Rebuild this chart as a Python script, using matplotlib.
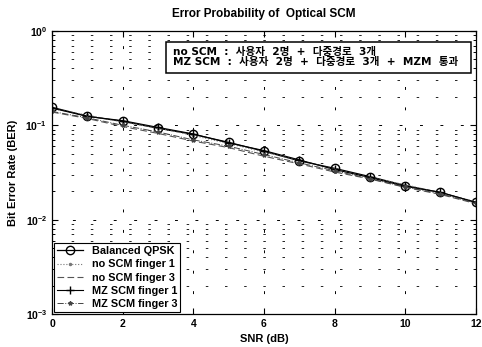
import matplotlib
matplotlib.use("Agg")
import matplotlib.pyplot as plt
from matplotlib.patches import Rectangle
from matplotlib.ticker import LogLocator, NullFormatter

snr = [0, 1, 2, 3, 4, 5, 6, 7, 8, 9, 10, 11, 12]
balanced_qpsk = [0.155, 0.125, 0.110, 0.093, 0.080, 0.066, 0.053, 0.042, 0.035, 0.0286, 0.023, 0.0194, 0.0152]
no_scm_f1 = [0.150, 0.128, 0.108, 0.094, 0.078, 0.064, 0.052, 0.043, 0.034, 0.028, 0.0235, 0.0192, 0.0155]
no_scm_f3 = [0.138, 0.118, 0.097, 0.082, 0.068, 0.058, 0.047, 0.039, 0.032, 0.027, 0.022, 0.0185, 0.0148]
mz_scm_f1 = [0.152, 0.124, 0.112, 0.095, 0.081, 0.065, 0.054, 0.043, 0.034, 0.028, 0.0225, 0.0195, 0.0153]
mz_scm_f3 = [0.140, 0.120, 0.100, 0.085, 0.070, 0.060, 0.049, 0.040, 0.033, 0.0272, 0.0222, 0.0188, 0.0150]

xticks = [0, 2, 4, 6, 8, 10, 12]
title = "Error Probability of  Optical SCM"
xlabel = "SNR (dB)"
ylabel = "Bit Error Rate (BER)"
legend_labels = ["Balanced QPSK", "no SCM finger 1", "no SCM finger 3", "MZ SCM finger 1", "MZ SCM finger 3"]
note_lines = ["no SCM  :  사용자  2명  +  다중경로  3개",
              "MZ SCM  :  사용자  2명  +  다중경로  3개  +  MZM  통과"]

plt.rcParams['font.family'] = ['Liberation Sans', 'DejaVu Sans']
plt.rcParams['font.weight'] = 'bold'
plt.rcParams['mathtext.default'] = 'bf'

fig = plt.figure(figsize=(4.82, 3.47), dpi=100)
ax = fig.add_axes([0.108, 0.095, 0.879, 0.816])

ax.semilogy(snr, balanced_qpsk, '-o', color='black', lw=0.9, ms=6, mfc='none', mew=1.0, label=legend_labels[0])
ax.semilogy(snr, no_scm_f1, ':', color='#777777', lw=0.8, marker='.', ms=3, label=legend_labels[1])
ax.semilogy(snr, no_scm_f3, '--', color='#555555', lw=0.8, dashes=(6, 3), label=legend_labels[2])
ax.semilogy(snr, mz_scm_f1, '-+', color='black', lw=0.8, ms=6, label=legend_labels[3])
ax.semilogy(snr, mz_scm_f3, '-.', color='#444444', lw=0.7, marker='*', ms=3, label=legend_labels[4])

ax.set_xlim(0, 12)
ax.set_ylim(1e-3, 1)
ax.set_xticks(xticks)
ax.yaxis.set_major_locator(LogLocator(base=10, numticks=10))
ax.yaxis.set_minor_locator(LogLocator(base=10, subs=range(2, 10), numticks=10))
ax.yaxis.set_minor_formatter(NullFormatter())
ax.tick_params(which='both', direction='in', labelsize=7.5, top=True, right=True)
ax.tick_params(which='major', length=4)
ax.tick_params(which='minor', length=2)
ax.grid(True, which='major', linestyle=(0, (3, 18)), color='black', lw=0.7)
ax.grid(True, which='minor', axis='y', linestyle=(0, (3, 20)), color='black', lw=0.6)

ax.set_title(title, fontsize=8.5, fontweight='bold', pad=10)
ax.set_xlabel(xlabel, fontsize=8, fontweight='bold', labelpad=4)
ax.set_ylabel(ylabel, fontsize=8, fontweight='bold', labelpad=5)

for sp in ax.spines.values():
    sp.set_linewidth(0.9)

leg = ax.legend(loc='lower left', fontsize=7.8, frameon=True, fancybox=False, edgecolor='black',
                framealpha=1, handlelength=2.4, borderpad=0.3, labelspacing=0.3, borderaxespad=0.15)
leg.get_frame().set_linewidth(0.8)

ax.add_patch(Rectangle((0.268, 0.85), 0.722, 0.11, transform=ax.transAxes, facecolor='white',
                       edgecolor='black', lw=1.1, zorder=5))
for i, line in enumerate(note_lines):
    ax.text(0.285, 0.927 - i * 0.038, line, transform=ax.transAxes, fontsize=7.6, fontweight='bold',
            family=['DejaVu Sans', 'Noto Sans CJK KR'], va='center', ha='left', zorder=6)

fig.savefig("out.png", dpi=100)
